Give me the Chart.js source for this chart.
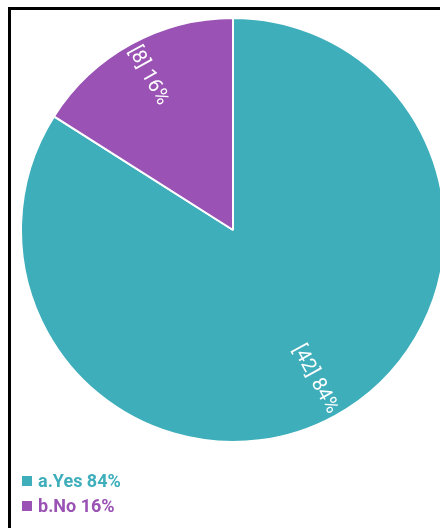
<!DOCTYPE html>
<html>
<head>
<meta charset="utf-8">
<script src="https://cdn.jsdelivr.net/npm/chart.js@4.4.1/dist/chart.umd.min.js"></script>
<style>
  html, body { margin: 0; padding: 0; background: #fff; overflow: hidden; }
  body { width: 440px; height: 528px; position: relative; font-family: Roboto, "Noto Sans", sans-serif; }
  .frame { position: absolute; left: 8px; top: 7px; width: 432px; height: 521px; border-top: 3px solid #000; border-left: 3px solid #000; box-sizing: border-box; }
  .chart-box { position: absolute; left: 0; top: 17px; width: 466px; height: 426px; }
  .legend { position: absolute; left: 22px; top: 468px; }
  .legend div { display: flex; align-items: center; height: 25px; font-size: 18px; font-weight: bold; }
  .legend span.box { display: inline-block; width: 10px; height: 10px; margin-right: 6px; }
</style>
</head>
<body>
<div class="chart-box"><canvas id="pieChart"></canvas></div>
<div class="frame"></div>
<div class="legend" id="legend"></div>
<script>
// answers
const labels = ["a.Yes", "b.No"];
const counts = [42, 8];
const colors = ["#3eaebb", "#9a53b4"];

const total = counts.reduce((a, b) => a + b, 0);
const percent = counts.map(v => Math.round(v / total * 100));

// legend below the pie
const legend = document.getElementById("legend");
labels.forEach(function (label, i) {
  const row = document.createElement("div");
  row.style.color = colors[i];
  row.innerHTML = '<span class="box" style="background:' + colors[i] + '"></span>' + label + " " + percent[i] + "%";
  legend.appendChild(row);
});

// rotated "[n] p%" labels along the slice middle, anchored at the outer edge
const sliceLabels = {
  id: "sliceLabels",
  afterDatasetsDraw(chart) {
    const { ctx } = chart;
    const meta = chart.getDatasetMeta(0);
    meta.data.forEach(function (arc, i) {
      const mid = (arc.startAngle + arc.endAngle) / 2;
      const r = arc.outerRadius - 4;
      const x = arc.x + Math.cos(mid) * r;
      const y = arc.y + Math.sin(mid) * r;
      ctx.save();
      ctx.translate(x, y);
      ctx.font = "20px Roboto";
      ctx.fillStyle = "#ffffff";
      ctx.textBaseline = "middle";
      if (Math.cos(mid) >= 0) {
        ctx.rotate(mid);
        ctx.textAlign = "right";
      } else {
        ctx.rotate(mid + Math.PI);
        ctx.textAlign = "left";
      }
      ctx.fillText("[" + counts[i] + "] " + percent[i] + "%", 0, 0);
      ctx.restore();
    });
  },
};

const ctx = document.getElementById("pieChart").getContext("2d");
const pieChart = new Chart(ctx, {
  type: "pie",
  data: {
    labels: labels,
    datasets: [
      {
        data: counts,
        backgroundColor: colors,
        borderColor: "#ffffff",
        borderWidth: 2,
      },
    ],
  },
  options: {
    responsive: true,
    maintainAspectRatio: false,
    animation: false,
    layout: { padding: 0 },
    plugins: {
      legend: { display: false },
      tooltip: { enabled: false },
    },
  },
  plugins: [sliceLabels],
});
</script>
</body>
</html>
